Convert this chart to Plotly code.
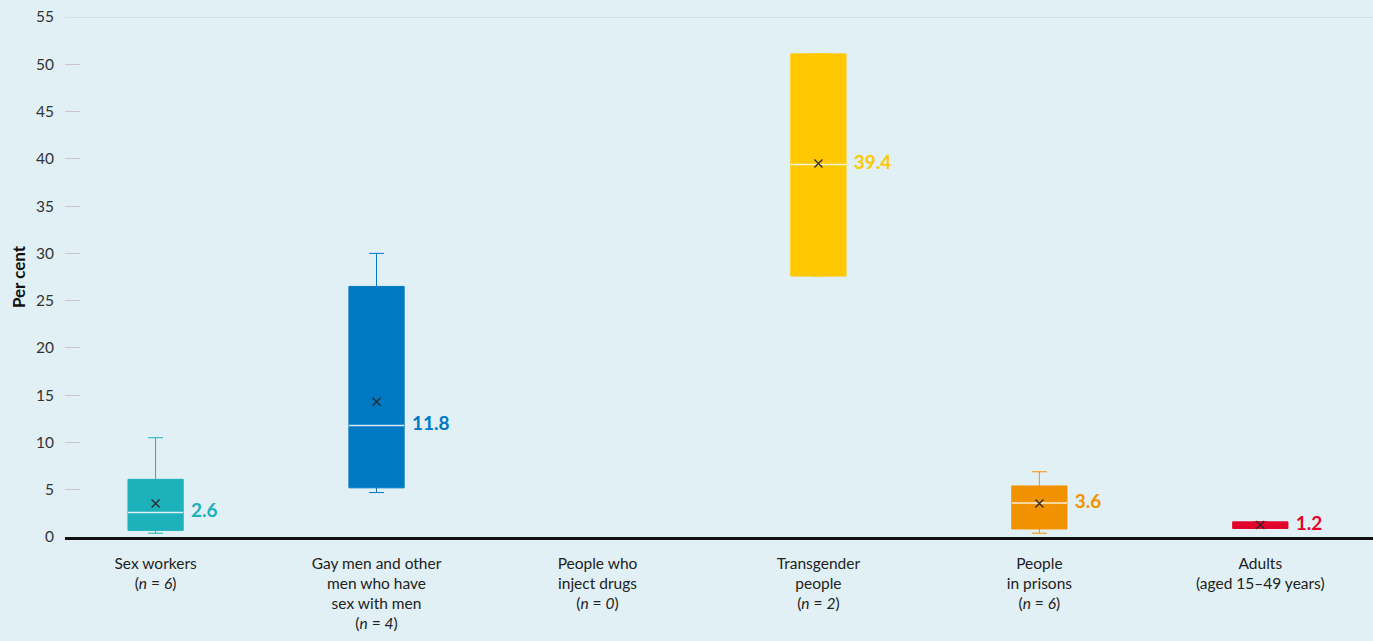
import plotly.graph_objects as go

# %% DATA
CATEGORIES = [
    "Sex workers<br>(<i>n</i> = <i>6</i>)",
    "Gay men and other<br>men who have<br>sex with men<br>(<i>n</i> = <i>4</i>)",
    "People who<br>inject drugs<br>(<i>n</i> = <i>0</i>)",
    "Transgender<br>people<br>(<i>n</i> = <i>2</i>)",
    "People<br>in prisons<br>(<i>n</i> = <i>6</i>)",
    "Adults<br>(aged 15–49 years)",
]
POSITIONS = [0, 1, 2, 3, 4, 5]
LOW = [0.4, 4.7, None, 27.6, 0.4, 0.9]
Q1 = [0.7, 5.2, None, 27.6, 0.85, 0.9]
MEDIAN = [2.6, 11.8, None, 39.4, 3.6, 1.2]
Q3 = [6.1, 26.5, None, 51.1, 5.4, 1.6]
HIGH = [10.5, 30.0, None, 51.1, 6.9, 1.6]
MEAN = [3.55, 14.3, None, 39.5, 3.55, 1.27]
SHOW_MEDIAN = [True, True, False, True, True, False]
COLORS = ["#1db1bb", "#0079c2", "#bbbbbb", "#ffc800", "#f39200", "#e3032d"]

Y_TICKS = list(range(0, 60, 5))
BOX_W = 0.25
LABEL_GAP = 0.035
BG = "#e1f0f4"
FONT = "Lato"

# %% PLOT
fig = go.Figure()

for i, pos in enumerate(POSITIONS):
    if MEDIAN[i] is None:
        continue
    c = COLORS[i]
    fig.add_trace(go.Box(
        x=[pos], q1=[Q1[i]], median=[MEDIAN[i]], q3=[Q3[i]],
        lowerfence=[LOW[i]], upperfence=[HIGH[i]],
        width=BOX_W, whiskerwidth=0.27, fillcolor=c,
        line=dict(color=c, width=1), boxpoints=False,
        hoverinfo="skip", showlegend=False,
    ))
    if SHOW_MEDIAN[i]:
        fig.add_trace(go.Scatter(
            x=[pos - BOX_W / 2, pos + BOX_W / 2], y=[MEDIAN[i], MEDIAN[i]],
            mode="lines", line=dict(color="rgba(255,255,255,0.85)", width=1.5),
            hoverinfo="skip", showlegend=False,
        ))

# mean markers
mx = [p for p, m in zip(POSITIONS, MEAN) if m is not None]
my = [m for m in MEAN if m is not None]
fig.add_trace(go.Scatter(
    x=mx, y=my, mode="markers",
    marker=dict(symbol="x-thin-open", size=8, color="#2b2b2b",
                line=dict(color="#2b2b2b", width=1.3)),
    hoverinfo="skip", showlegend=False,
))

# median value labels
lx = [p + BOX_W / 2 + LABEL_GAP for p, m in zip(POSITIONS, MEDIAN) if m is not None]
ly = [m for m in MEDIAN if m is not None]
lc = [c for c, m in zip(COLORS, MEDIAN) if m is not None]
fig.add_trace(go.Scatter(
    x=lx, y=ly, mode="text", text=[f"<b>{v:.1f}</b>" for v in ly],
    textposition="middle right",
    textfont=dict(family=FONT, size=19, color=lc),
    hoverinfo="skip", showlegend=False,
))

fig.add_hline(y=Y_TICKS[-1], line=dict(color="#cccccc", width=1), layer="below")

fig.update_layout(
    width=1373, height=641,
    margin=dict(l=65, r=0, t=17, b=104),
    paper_bgcolor=BG, plot_bgcolor=BG,
    font=dict(family=FONT, size=15, color="#222222"),
    xaxis=dict(
        range=[-0.41, 5.51], tickvals=POSITIONS, ticktext=CATEGORIES,
        showgrid=False, zeroline=False, showline=True,
        linecolor="#111111", linewidth=3, ticks="", ticklabelstandoff=10,
        tickfont=dict(size=15.5, color="#222222"),
    ),
    yaxis=dict(
        range=[0, 55], tickvals=Y_TICKS, showgrid=False, zeroline=False,
        ticks="inside", ticklen=15, tickcolor="#c8c8c8", tickwidth=1,
        ticklabelstandoff=10, tickfont=dict(size=15.5, color="#333333"),
        title=dict(text="<b>Per cent</b>", font=dict(size=17, color="#111111"), standoff=6),
    ),
)

fig.write_html("out.html", config={"displayModeBar": False},
               post_script="document.body.style.margin='0';")
